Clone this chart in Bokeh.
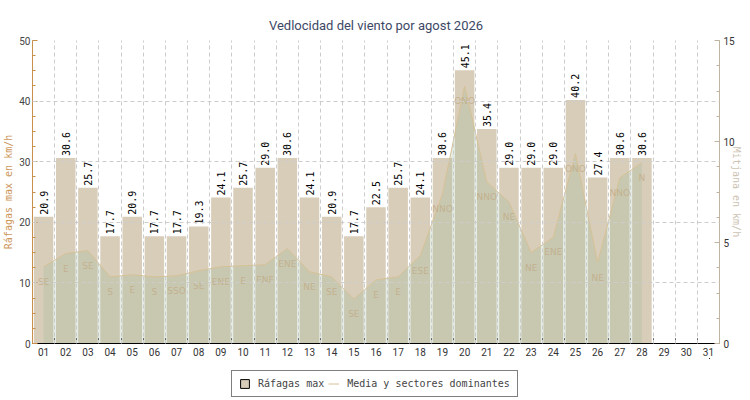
from math import pi
from bokeh.plotting import figure
from bokeh.layouts import column
from bokeh.models import (ColumnDataSource, Range1d, LinearAxis, FixedTicker,
                          Legend, LegendItem)
from bokeh.core.properties import value
from bokeh.embed import file_html
from bokeh.resources import INLINE

# dias del mes (eje x) y sus etiquetas
month_days = list(range(1, 32))
day_labels = ["%02d" % d for d in month_days]

# datos medidos hasta el dia 28
days = list(range(1, 29))
rafagas = [20.9, 30.6, 25.7, 17.7, 20.9, 17.7, 17.7, 19.3, 24.1, 25.7,
           29.0, 30.6, 24.1, 20.9, 17.7, 22.5, 25.7, 24.1, 30.6, 45.1,
           35.4, 29.0, 29.0, 29.0, 40.2, 27.4, 30.6, 30.6]
media = [3.8, 4.45, 4.6, 3.3, 3.4, 3.3, 3.35, 3.6, 3.8, 3.85,
         3.9, 4.7, 3.55, 3.3, 2.2, 3.15, 3.3, 4.35, 7.4, 12.75,
         8.0, 7.0, 4.5, 5.25, 9.4, 4.0, 8.2, 8.95]
sectores = ["SE", "E", "SE", "S", "E", "S", "SSO", "SE", "ENE", "E",
            "ENE", "ENE", "NE", "SE", "SE", "E", "E", "ESE", "NNO", "ONO",
            "NNO", "NE", "NE", "ENE", "ONO", "NE", "NNO", "N"]

left_ticks = [0, 10, 20, 30, 40, 50]
left_minor = [i * 2.5 for i in range(21)]
right_ticks = [0, 5, 10, 15]
right_minor = [i * 1.25 for i in range(13)]

src = ColumnDataSource(data=dict(day=days, rafagas=rafagas, media=media, sector=sectores,
                                 rlabel=["%.1f" % v for v in rafagas]))

mono = "DejaVu Sans Mono"
bar_color = "#d8cdb9"
line_color = "#d6c196"

p = figure(frame_width=687, frame_height=303, x_range=Range1d(0.5, 31.5), y_range=Range1d(0, 50),
           output_backend="svg", toolbar_location=None,
           min_border_left=0, min_border_right=0, min_border_top=40, min_border_bottom=0)
p.extra_y_ranges = {"media": Range1d(0, 15)}
p.outline_line_color = None

p.title.text = "Vedlocidad del viento por agost 2026"
p.title.align = "center"
p.title.text_font = "Roboto"
p.title.text_font_size = "13px"
p.title.text_font_style = "normal"
p.title.text_color = "#3d4866"
p.title.standoff = 15

p.vbar(x="day", top="rafagas", width=0.88, source=src, fill_color=bar_color, line_color=None)
p.varea(x="day", y1=0, y2="media", source=src, y_range_name="media",
        fill_color="#9fbb9f", fill_alpha=0.28)
p.line(x="day", y="media", source=src, y_range_name="media", line_color=line_color, line_width=1)

p.text(x="day", y="media", text="sector", source=src, y_range_name="media",
       y_offset=15, text_align="center", text_baseline="middle",
       text_font=value("DejaVu Sans"), text_font_size="9px", text_color="#c2aa86", text_alpha=0.8)

p.text(x="day", y="rafagas", text="rlabel", source=src, angle=pi / 2,
       x_offset=0, y_offset=-2, text_align="left", text_baseline="middle",
       text_font=value(mono), text_font_size="10px", text_color="black")

# x axis: labels on days, ticks between days
p.xaxis.ticker = FixedTicker(ticks=month_days, minor_ticks=[d - 0.5 for d in month_days] + [31.5])
p.xaxis.major_label_overrides = dict(zip(month_days, day_labels))
p.xaxis.major_tick_in = 0
p.xaxis.major_tick_out = 0
p.xaxis.minor_tick_in = 5
p.xaxis.minor_tick_out = 0
p.xaxis.axis_line_color = "black"
p.xaxis.minor_tick_line_color = "black"
p.xaxis.major_label_text_font = "Roboto"
p.xaxis.major_label_text_font_size = "10px"
p.xaxis.major_label_text_color = "#333333"
p.xaxis.major_label_standoff = 4

p.yaxis.ticker = FixedTicker(ticks=left_ticks, minor_ticks=left_minor)
p.yaxis.axis_label = "Ráfagas max en km/h"
p.yaxis.axis_label_text_font = mono
p.yaxis.axis_label_text_font_size = "10px"
p.yaxis.axis_label_text_font_style = "normal"
p.yaxis.axis_label_text_color = "#cd965a"
p.yaxis.axis_label_standoff = 2
p.yaxis.axis_line_color = "#c98f4c"
p.yaxis.major_tick_line_color = "#c98f4c"
p.yaxis.minor_tick_line_color = "#c98f4c"
p.yaxis.major_tick_in = 5
p.yaxis.major_tick_out = 0
p.yaxis.minor_tick_in = 3
p.yaxis.minor_tick_out = 0
p.yaxis.major_label_text_font = "Roboto"
p.yaxis.major_label_text_font_size = "10px"
p.yaxis.major_label_text_color = "#444444"
p.yaxis.major_label_standoff = 2

raxis = LinearAxis(y_range_name="media", axis_label="Mitjana en km/h",
                   ticker=FixedTicker(ticks=right_ticks, minor_ticks=right_minor))
raxis.axis_label_text_font = mono
raxis.axis_label_text_font_size = "10px"
raxis.axis_label_text_font_style = "normal"
raxis.axis_label_text_color = "#cdc3b4"
raxis.axis_label_standoff = -7
raxis.axis_line_color = "#c0b4a0"
raxis.major_tick_line_color = "#c0b4a0"
raxis.minor_tick_line_color = "#c0b4a0"
raxis.major_tick_in = 5
raxis.major_tick_out = 0
raxis.minor_tick_in = 3
raxis.minor_tick_out = 0
raxis.major_label_text_font = "Roboto"
raxis.major_label_text_font_size = "10px"
raxis.major_label_text_color = "#333333"
raxis.major_label_standoff = 4
p.add_layout(raxis, "right")

# grid on top of the bars, dashed
p.xgrid.ticker = FixedTicker(ticks=[d + 0.5 for d in month_days[:-1]])
p.ygrid.ticker = FixedTicker(ticks=left_ticks[1:])
for g in (p.xgrid, p.ygrid):
    g.grid_line_color = "#cccccc"
    g.grid_line_dash = "4 3"
    g.level = "overlay"

# legend lives in a small strip below the chart; its glyphs sit out of view
leg = figure(width=734, height=40, output_backend="svg", toolbar_location=None,
             x_range=Range1d(-10, -9), y_range=Range1d(-10, -9),
             min_border_left=0, min_border_right=0, min_border_top=0, min_border_bottom=0)
leg.axis.visible = False
leg.grid.visible = False
leg.outline_line_color = None
sw_bar = leg.vbar(x="day", top="rafagas", source=src, width=0.88,
                  fill_color=bar_color, line_color="black")
sw_line = leg.line(x="day", y="media", source=src, line_color=line_color, line_width=1)
legend = Legend(items=[LegendItem(label="Ráfagas max", renderers=[sw_bar]),
                       LegendItem(label="Media y sectores dominantes", renderers=[sw_line])],
                orientation="horizontal", location=(199, 1),
                border_line_color="black", border_line_width=1,
                label_text_font=mono, label_text_font_size="10px",
                glyph_width=11, glyph_height=11, label_height=11,
                label_standoff=8, spacing=4, padding=7, margin=0)
leg.add_layout(legend, "center")

open("out.html", "w").write(file_html(column(p, leg), INLINE))
